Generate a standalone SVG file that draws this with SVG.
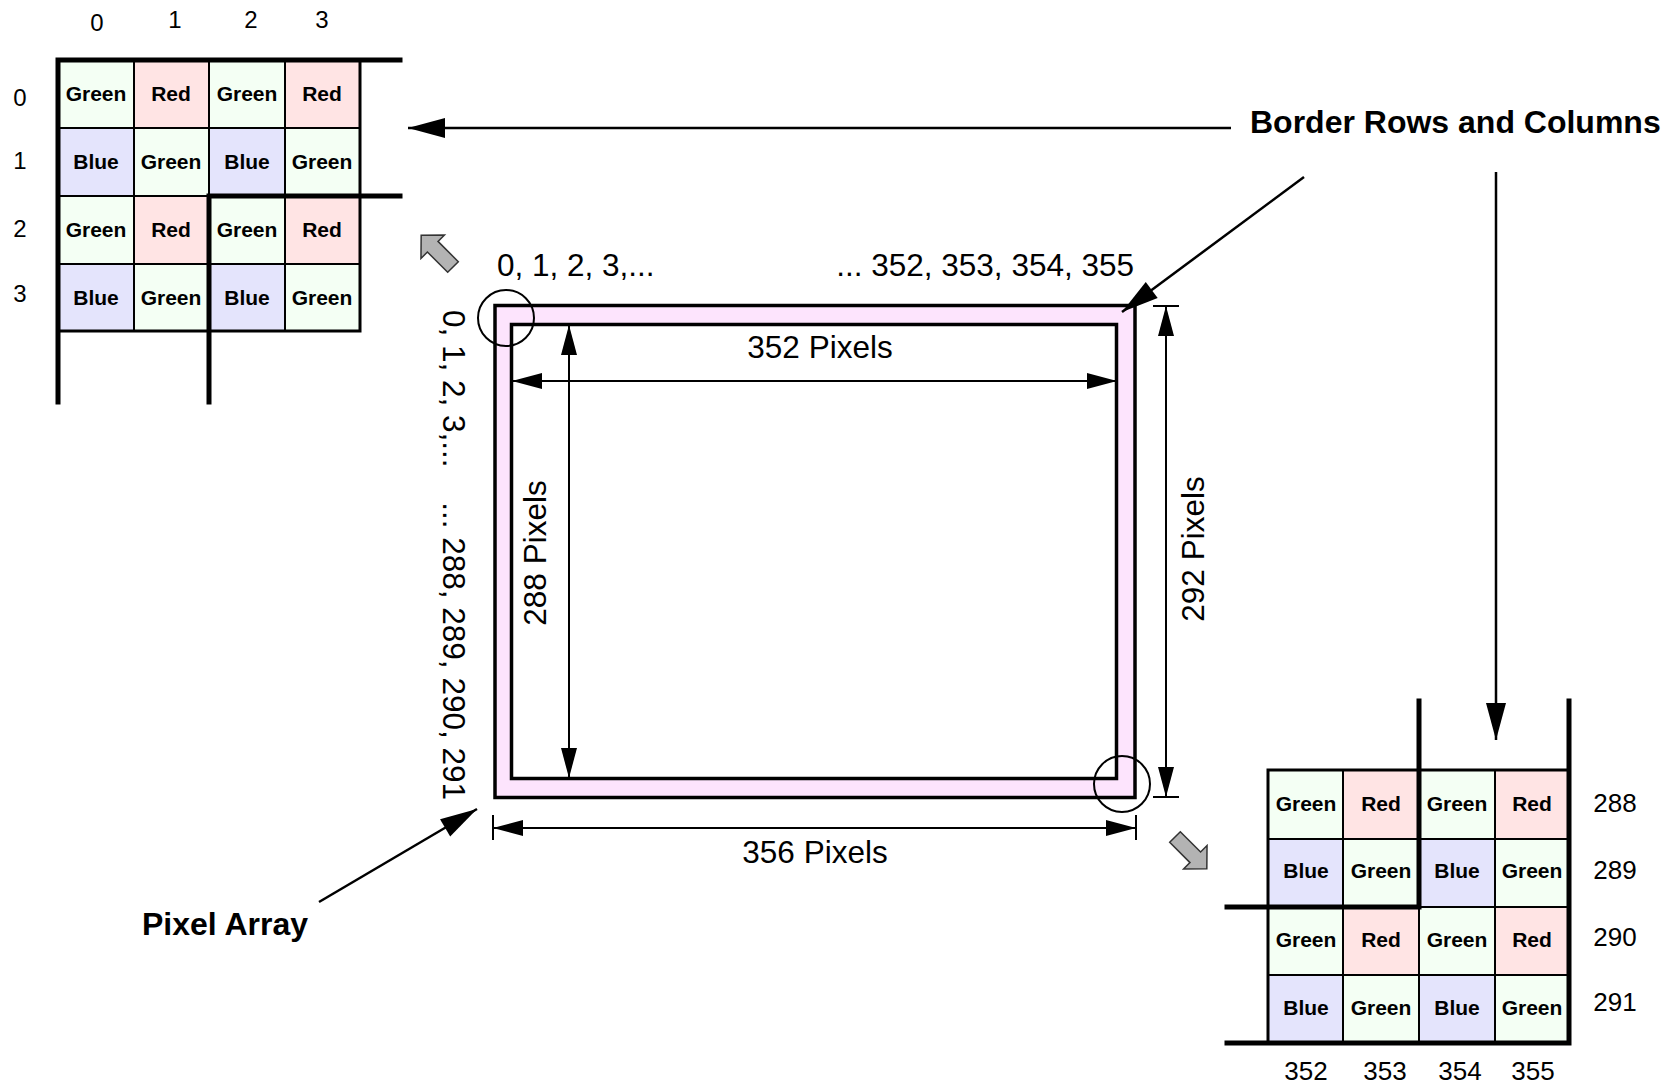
<svg xmlns="http://www.w3.org/2000/svg" width="1678" height="1086" viewBox="0 0 1678 1086">
<style>
text{font-family:"Liberation Sans",Arial,sans-serif;fill:#000}
.cell{stroke:#000;stroke-width:2}
.g{fill:#f4fff4}.r{fill:#ffe4e4}.b{fill:#e4e4fc}
.ct{font-size:21px;font-weight:bold;text-anchor:middle}
.ix{font-size:24px;text-anchor:middle}
.ix2{font-size:26px;text-anchor:middle}
.lbl{font-size:31.5px}
.big{font-size:32px;font-weight:bold}
.thick{stroke:#000;stroke-width:5;fill:none;stroke-linecap:square}
.mid{stroke:#000;stroke-width:3;fill:none}
.dim{stroke:#000;stroke-width:2;fill:none}
.arr{stroke:#000;stroke-width:2.5;fill:none}
.blk{fill:#b3b3b3;stroke:#333;stroke-width:1.5}
</style>
<defs>
<marker id="ah" markerUnits="userSpaceOnUse" viewBox="-1 -10 32 20" markerWidth="32" markerHeight="20" refX="30" refY="0" orient="auto-start-reverse"><path d="M0,-8 L30,0 L0,8 z" fill="#000"/></marker>
<marker id="bh" markerUnits="userSpaceOnUse" viewBox="-1 -12 40 24" markerWidth="40" markerHeight="24" refX="37" refY="0" orient="auto"><path d="M0,-10 L37,0 L0,10 z" fill="#000"/></marker>
<polygon id="blockarrow" points="0,-7.5 28.7,-7.5 28.7,-16.6 45,0 28.7,16.6 28.7,7.5 0,7.5"/>
</defs>

<g id="grid-top-left">
<rect class="cell g" x="58" y="60" width="76" height="68"/>
<rect class="cell r" x="134" y="60" width="75" height="68"/>
<rect class="cell g" x="209" y="60" width="76" height="68"/>
<rect class="cell r" x="285" y="60" width="75" height="68"/>
<rect class="cell b" x="58" y="128" width="76" height="68"/>
<rect class="cell g" x="134" y="128" width="75" height="68"/>
<rect class="cell b" x="209" y="128" width="76" height="68"/>
<rect class="cell g" x="285" y="128" width="75" height="68"/>
<rect class="cell g" x="58" y="196" width="76" height="68"/>
<rect class="cell r" x="134" y="196" width="75" height="68"/>
<rect class="cell g" x="209" y="196" width="76" height="68"/>
<rect class="cell r" x="285" y="196" width="75" height="68"/>
<rect class="cell b" x="58" y="264" width="76" height="67"/>
<rect class="cell g" x="134" y="264" width="75" height="67"/>
<rect class="cell b" x="209" y="264" width="76" height="67"/>
<rect class="cell g" x="285" y="264" width="75" height="67"/>
<path class="mid" d="M360,60 V331 H58"/>
<path class="thick" d="M58,402 V60 H400 M209,402 V196 H400"/>
<text class="ct" x="96" y="101">Green</text><text class="ct" x="171" y="101">Red</text><text class="ct" x="247" y="101">Green</text><text class="ct" x="322" y="101">Red</text>
<text class="ct" x="96" y="169">Blue</text><text class="ct" x="171" y="169">Green</text><text class="ct" x="247" y="169">Blue</text><text class="ct" x="322" y="169">Green</text>
<text class="ct" x="96" y="237">Green</text><text class="ct" x="171" y="237">Red</text><text class="ct" x="247" y="237">Green</text><text class="ct" x="322" y="237">Red</text>
<text class="ct" x="96" y="305">Blue</text><text class="ct" x="171" y="305">Green</text><text class="ct" x="247" y="305">Blue</text><text class="ct" x="322" y="305">Green</text>
<text class="ix" x="97" y="31">0</text><text class="ix" x="175" y="28">1</text><text class="ix" x="251" y="28">2</text><text class="ix" x="322" y="28">3</text>
<text class="ix" x="20" y="106">0</text><text class="ix" x="20" y="169">1</text><text class="ix" x="20" y="237">2</text><text class="ix" x="20" y="302">3</text>
</g>

<g id="grid-bottom-right">
<rect class="cell g" x="1268" y="770" width="75" height="69"/>
<rect class="cell r" x="1343" y="770" width="76" height="69"/>
<rect class="cell g" x="1419" y="770" width="76" height="69"/>
<rect class="cell r" x="1495" y="770" width="74" height="69"/>
<rect class="cell b" x="1268" y="839" width="75" height="68"/>
<rect class="cell g" x="1343" y="839" width="76" height="68"/>
<rect class="cell b" x="1419" y="839" width="76" height="68"/>
<rect class="cell g" x="1495" y="839" width="74" height="68"/>
<rect class="cell g" x="1268" y="907" width="75" height="68"/>
<rect class="cell r" x="1343" y="907" width="76" height="68"/>
<rect class="cell g" x="1419" y="907" width="76" height="68"/>
<rect class="cell r" x="1495" y="907" width="74" height="68"/>
<rect class="cell b" x="1268" y="975" width="75" height="68"/>
<rect class="cell g" x="1343" y="975" width="76" height="68"/>
<rect class="cell b" x="1419" y="975" width="76" height="68"/>
<rect class="cell g" x="1495" y="975" width="74" height="68"/>
<path class="mid" d="M1268,1043 V770 H1569"/>
<path class="thick" d="M1419,701 V907 H1227 M1569,701 V1043 H1227"/>
<text class="ct" x="1306" y="811">Green</text><text class="ct" x="1381" y="811">Red</text><text class="ct" x="1457" y="811">Green</text><text class="ct" x="1532" y="811">Red</text>
<text class="ct" x="1306" y="878">Blue</text><text class="ct" x="1381" y="878">Green</text><text class="ct" x="1457" y="878">Blue</text><text class="ct" x="1532" y="878">Green</text>
<text class="ct" x="1306" y="947">Green</text><text class="ct" x="1381" y="947">Red</text><text class="ct" x="1457" y="947">Green</text><text class="ct" x="1532" y="947">Red</text>
<text class="ct" x="1306" y="1015">Blue</text><text class="ct" x="1381" y="1015">Green</text><text class="ct" x="1457" y="1015">Blue</text><text class="ct" x="1532" y="1015">Green</text>
<text class="ix2" x="1615" y="812">288</text><text class="ix2" x="1615" y="879">289</text><text class="ix2" x="1615" y="946">290</text><text class="ix2" x="1615" y="1011">291</text>
<text class="ix2" x="1306" y="1080">352</text><text class="ix2" x="1385" y="1080">353</text><text class="ix2" x="1460" y="1080">354</text><text class="ix2" x="1533" y="1080">355</text>
</g>

<g id="pixel-array">
<rect x="495" y="305.5" width="640" height="492" fill="#fde4fd" stroke="#000" stroke-width="3.5"/>
<rect x="511.5" y="324.5" width="605" height="454" fill="#fff" stroke="#000" stroke-width="3.5"/>
<circle cx="506" cy="318" r="28" fill="none" stroke="#000" stroke-width="2"/>
<circle cx="1122" cy="784" r="28" fill="none" stroke="#000" stroke-width="2"/>
<text class="lbl" x="497" y="276">0, 1, 2, 3,...</text>
<text class="lbl" x="1134" y="276" text-anchor="end">... 352, 353, 354, 355</text>
<text class="lbl" transform="translate(443,310) rotate(90)">0, 1, 2, 3,...</text>
<text class="lbl" transform="translate(443,800) rotate(90)" text-anchor="end">... 288, 289, 290, 291</text>
<text class="lbl" x="820" y="358" text-anchor="middle">352 Pixels</text>
<text class="lbl" x="815" y="863" text-anchor="middle">356 Pixels</text>
<text class="lbl" transform="translate(546,553) rotate(-90)" text-anchor="middle">288 Pixels</text>
<text class="lbl" transform="translate(1204,549) rotate(-90)" text-anchor="middle">292 Pixels</text>
</g>

<g id="border-label"><text class="big" x="1250" y="133">Border Rows and Columns</text></g>
<g id="pixel-array-label"><text class="big" x="142" y="935">Pixel Array</text></g>

<g id="zoom-arrows">
<use href="#blockarrow" class="blk" transform="translate(453,267) rotate(-135)"/>
<use href="#blockarrow" class="blk" transform="translate(1175,837) rotate(45)"/>
</g>

<g id="connectors">
<line class="dim" x1="512" y1="381" x2="1117" y2="381" marker-start="url(#ah)" marker-end="url(#ah)"/>
<line class="dim" x1="569" y1="325" x2="569" y2="778" marker-start="url(#ah)" marker-end="url(#ah)"/>
<line class="dim" x1="493" y1="828" x2="1136" y2="828" marker-start="url(#ah)" marker-end="url(#ah)"/>
<line class="dim" x1="1166" y1="306" x2="1166" y2="797" marker-start="url(#ah)" marker-end="url(#ah)"/>
<path class="dim" d="M493,815 V840 M1136,815 V840 M1153,306 H1179 M1153,797 H1179" stroke-width="2.5"/>
<line class="arr" x1="1231" y1="128" x2="408" y2="128" marker-end="url(#bh)"/>
<line class="arr" x1="1304" y1="177" x2="1122" y2="312" marker-end="url(#bh)"/>
<line class="arr" x1="1496" y1="172" x2="1496" y2="740" marker-end="url(#bh)"/>
<line class="arr" x1="319" y1="902" x2="477" y2="809" marker-end="url(#bh)"/>
</g>
</svg>
